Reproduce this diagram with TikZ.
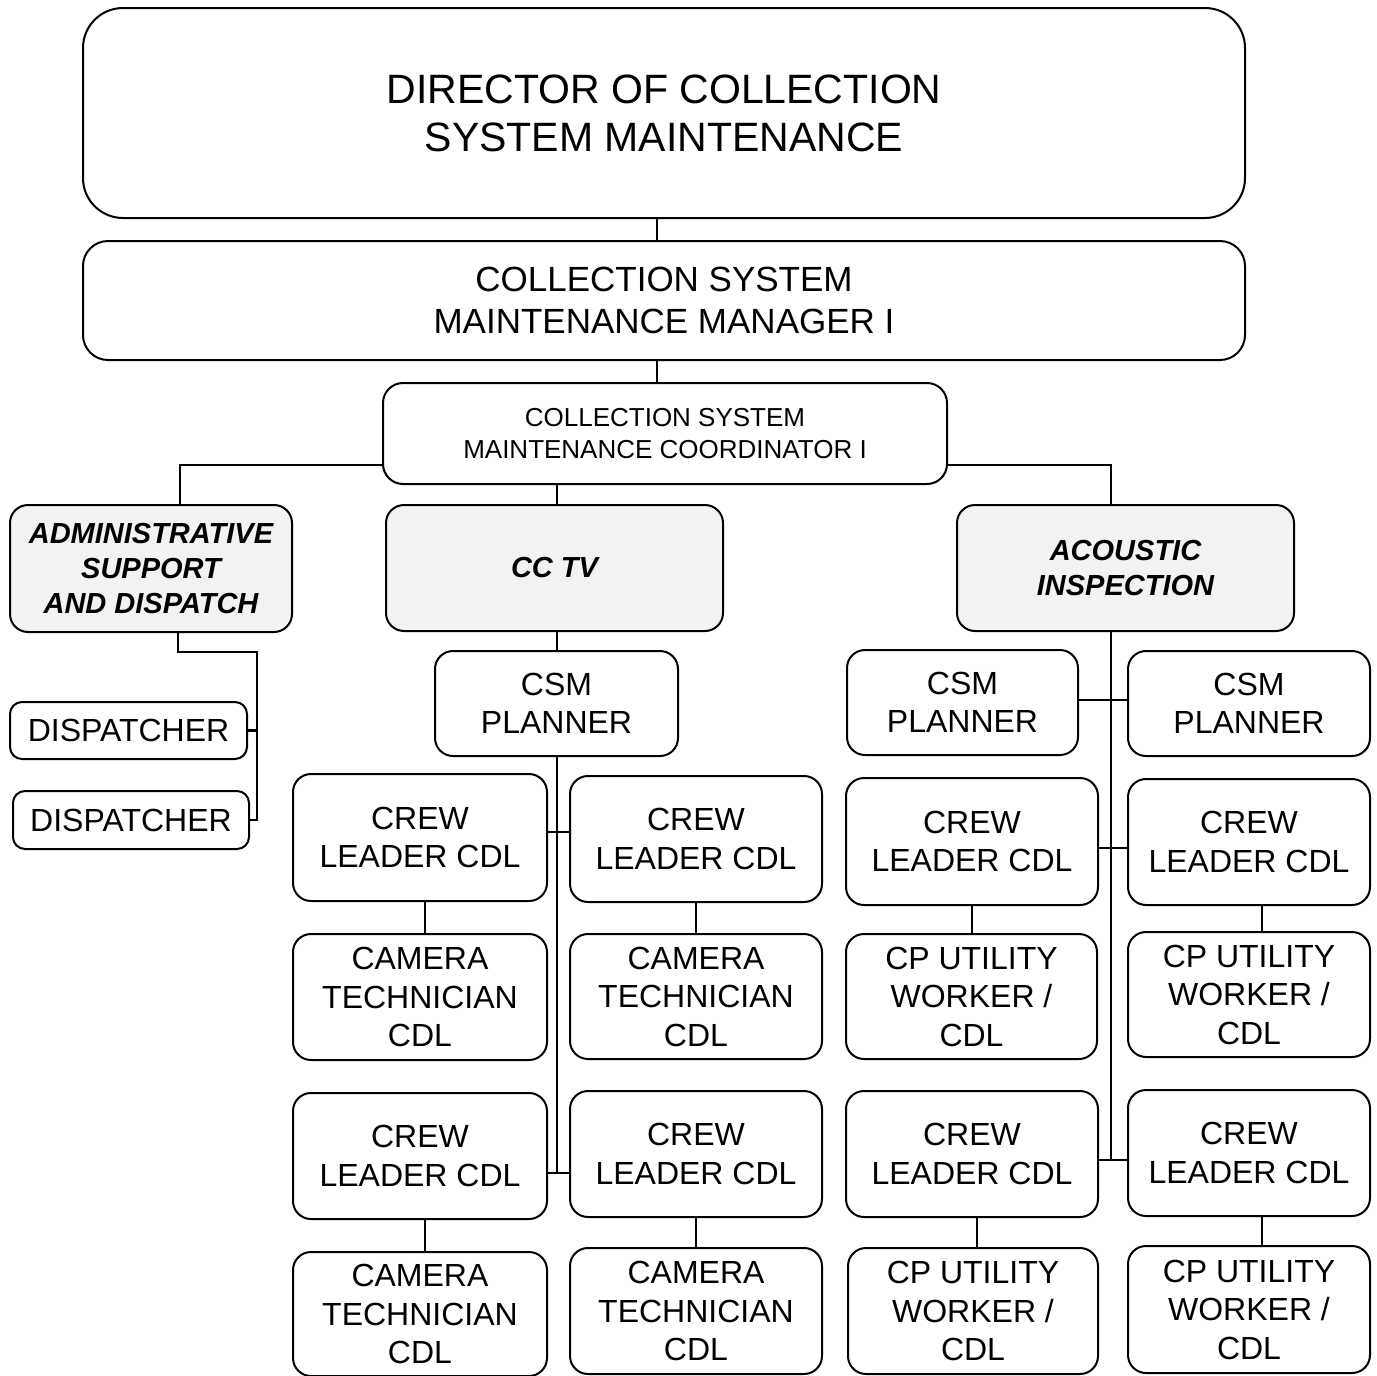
\documentclass[tikz,border=0pt]{standalone}
\usepackage{fontspec}
\setmainfont{Liberation Sans}
\definecolor{grpfill}{HTML}{F2F2F2}
\begin{document}
\begin{tikzpicture}[x=1pt,y=-1pt,
  box/.style={draw, line width=2pt, rounded corners=18pt, align=center, inner sep=0pt,
    fill=white, font=\fontsize{32}{38.5}\selectfont},
  grp/.style={box, fill=grpfill, font=\fontsize{29}{35}\selectfont\bfseries\itshape},
  link/.style={line width=2.6pt}]
\useasboundingbox (0,0) rectangle (1377,1376);

% management chain
\node[box, rounded corners=40pt, minimum width=1162pt, minimum height=210pt,
  font=\fontsize{41}{48}\selectfont] (dir) at (664,113) {DIRECTOR OF COLLECTION\\SYSTEM MAINTENANCE};
\node[box, rounded corners=25pt, minimum width=1162pt, minimum height=119pt,
  font=\fontsize{35}{42}\selectfont] (mgr) at (664,300.5) {COLLECTION SYSTEM\\MAINTENANCE MANAGER I};
\node[box, rounded corners=20pt, minimum width=564pt, minimum height=101pt,
  font=\fontsize{26}{32}\selectfont] (coord) at (665,433.5) {COLLECTION SYSTEM\\MAINTENANCE COORDINATOR I};

% group headers
\node[grp, minimum width=282pt, minimum height=127pt] (adm) at (151,568.5) {ADMINISTRATIVE\\SUPPORT\\AND DISPATCH};
\node[grp, minimum width=337pt, minimum height=126pt] (cctv) at (554.5,568) {CC TV};
\node[grp, minimum width=337pt, minimum height=126pt] (ac) at (1125.5,568) {ACOUSTIC\\INSPECTION};

% dispatch
\node[box, rounded corners=12pt, minimum width=237pt, minimum height=57pt] (d1) at (128.5,730.5) {DISPATCHER};
\node[box, rounded corners=12pt, minimum width=236pt, minimum height=58pt] (d2) at (131,820) {DISPATCHER};

% CC TV team
\node[box, minimum width=243pt, minimum height=105pt] (pl) at (556.5,703.5) {CSM\\PLANNER};
\node[box, minimum width=254pt, minimum height=127pt] (cl1) at (420,837.5) {CREW\\LEADER CDL};
\node[box, minimum width=252pt, minimum height=126pt] (cr1) at (696,839) {CREW\\LEADER CDL};
\node[box, minimum width=254pt, minimum height=126pt] (tl1) at (420,997) {CAMERA\\TECHNICIAN\\CDL};
\node[box, minimum width=252pt, minimum height=125pt] (tr1) at (696,996.5) {CAMERA\\TECHNICIAN\\CDL};
\node[box, minimum width=254pt, minimum height=126pt] (cl2) at (420,1156) {CREW\\LEADER CDL};
\node[box, minimum width=252pt, minimum height=126pt] (cr2) at (696,1154) {CREW\\LEADER CDL};
\node[box, minimum width=254pt, minimum height=124pt] (tl2) at (420,1314) {CAMERA\\TECHNICIAN\\CDL};
\node[box, minimum width=252pt, minimum height=126pt] (tr2) at (696,1311) {CAMERA\\TECHNICIAN\\CDL};

% acoustic inspection team
\node[box, minimum width=231pt, minimum height=105pt] (pa1) at (962.5,702.5) {CSM\\PLANNER};
\node[box, minimum width=242pt, minimum height=105pt] (pa2) at (1249,703.5) {CSM\\PLANNER};
\node[box, minimum width=252pt, minimum height=127pt] (ca1) at (972,841.5) {CREW\\LEADER CDL};
\node[box, minimum width=242pt, minimum height=126pt] (ca2) at (1249,842) {CREW\\LEADER CDL};
\node[box, minimum width=251pt, minimum height=125pt] (ua1) at (971.5,996.5) {CP UTILITY\\WORKER /\\CDL};
\node[box, minimum width=242pt, minimum height=125pt] (ua2) at (1249,994.5) {CP UTILITY\\WORKER /\\CDL};
\node[box, minimum width=252pt, minimum height=126pt] (ca3) at (972,1154) {CREW\\LEADER CDL};
\node[box, minimum width=242pt, minimum height=126pt] (ca4) at (1249,1153) {CREW\\LEADER CDL};
\node[box, minimum width=250pt, minimum height=126pt] (ua3) at (973,1311) {CP UTILITY\\WORKER /\\CDL};
\node[box, minimum width=242pt, minimum height=127pt] (ua4) at (1249,1309.5) {CP UTILITY\\WORKER /\\CDL};

% junction points of the connectors
\coordinate (trunk) at (657,0);
\coordinate (jl) at (180,465);
\coordinate (jr) at (1111,465);
\coordinate (ad) at (178,652);
\coordinate (dbus) at (257,652);
\coordinate (tv1) at (557,832);
\coordinate (tv2) at (557,1173);
\coordinate (ak1) at (1111,700);
\coordinate (ak2) at (1111,848);
\coordinate (ak3) at (1111,1160);

% management chain
\draw[link] (trunk |- dir.south) -- (trunk |- mgr.north);
\draw[link] (trunk |- mgr.south) -- (trunk |- coord.north);
\draw[link] (coord.west |- jl) -- (jl) -- (jl |- adm.north);
\draw[link] (coord.east |- jr) -- (jr) -- (jr |- ac.north);
\draw[link] (tv1 |- coord.south) -- (tv1 |- cctv.north);

% dispatch
\draw[link] (ad |- adm.south) -- (ad) -- (dbus) -- (dbus |- d2.east) -- (d2.east);
\draw[link] (d1.east) -- (dbus |- d1.east);

% CC TV
\draw[link] (tv1 |- cctv.south) -- (tv1 |- pl.north);
\draw[link] (tv1 |- pl.south) -- (tv2);
\draw[link] (cl1.east |- tv1) -- (cr1.west |- tv1);
\draw[link] (cl2.east |- tv2) -- (cr2.west |- tv2);
\draw[link] ([xshift=5pt]cl1.south) -- ([xshift=5pt]cl1.south |- tl1.north);
\draw[link] (cr1.south) -- (cr1.south |- tr1.north);
\draw[link] ([xshift=5pt]cl2.south) -- ([xshift=5pt]cl2.south |- tl2.north);
\draw[link] (cr2.south) -- (cr2.south |- tr2.north);

% acoustic inspection
\draw[link] (ak1 |- ac.south) -- (ak3);
\draw[link] (pa1.east |- ak1) -- (pa2.west |- ak1);
\draw[link] (ca1.east |- ak2) -- (ca2.west |- ak2);
\draw[link] (ca3.east |- ak3) -- (ca4.west |- ak3);
\draw[link] (ca1.south) -- (ca1.south |- ua1.north);
\draw[link] ([xshift=13pt]ca2.south) -- ([xshift=13pt]ca2.south |- ua2.north);
\draw[link] ([xshift=5pt]ca3.south) -- ([xshift=5pt]ca3.south |- ua3.north);
\draw[link] ([xshift=13pt]ca4.south) -- ([xshift=13pt]ca4.south |- ua4.north);
\end{tikzpicture}
\end{document}
